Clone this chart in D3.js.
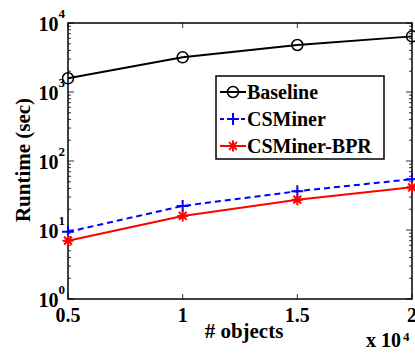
<!DOCTYPE html>
<html>
<head>
<meta charset="utf-8">
<script src="https://cdn.jsdelivr.net/npm/d3@7/dist/d3.min.js"></script>
</head>
<body style="margin:0">
<svg id="chart" width="415" height="355"></svg>
<script>
// Number of objects (in units of 10^4)
const objects = [0.5, 1, 1.5, 2];
const baseline = [1580, 3180, 4800, 6400];
const csminer = [9.4, 22.3, 36.5, 54.5];
const csminerBpr = [7.0, 16.0, 27.5, 41.5];
const xTicks = [0.5, 1, 1.5, 2];
const yExponents = [0, 1, 2, 3, 4];
const seriesNames = ["Baseline", "CSMiner", "CSMiner-BPR"];

const FONT = '"Liberation Serif", "Times New Roman", Tinos, serif';
const svg = d3.select("#chart");
const m = { left: 68, right: 412, top: 23, bottom: 299 };

function label(parent, x0, y0, size, str, anchor) {
  return parent.append("text").attr("x", x0).attr("y", y0)
    .attr("text-anchor", anchor || "start")
    .attr("font-size", size).attr("font-weight", "bold")
    .style("font-family", FONT)
    .text(str);
}

const x = d3.scaleLinear().domain([0.5, 2]).range([m.left, m.right]);
const y = d3.scaleLog().domain([1, 1e4]).range([m.bottom, m.top]);

const series = [
  { name: seriesNames[0], values: baseline, color: "#000", dash: null, marker: "circle" },
  { name: seriesNames[1], values: csminer, color: "#0000ff", dash: "6,4", marker: "plus" },
  { name: seriesNames[2], values: csminerBpr, color: "#ff0000", dash: null, marker: "star" }
];

// Plot frame
svg.append("rect")
  .attr("x", m.left).attr("y", m.top)
  .attr("width", m.right - m.left).attr("height", m.bottom - m.top)
  .attr("fill", "none").attr("stroke", "#000").attr("stroke-width", 1.5);

// Log ticks on both vertical sides, pointing inward
const minor = [];
for (let e = 0; e < 4; e++) for (let k = 2; k <= 9; k++) minor.push(k * Math.pow(10, e));
const tickG = svg.append("g").attr("stroke", "#000").attr("stroke-width", 0.8);
minor.forEach(v => {
  tickG.append("line").attr("x1", m.left).attr("x2", m.left + 3).attr("y1", y(v)).attr("y2", y(v));
  tickG.append("line").attr("x1", m.right).attr("x2", m.right - 3).attr("y1", y(v)).attr("y2", y(v));
});
yExponents.forEach(e => {
  const v = Math.pow(10, e);
  tickG.append("line").attr("x1", m.left).attr("x2", m.left + 6).attr("y1", y(v)).attr("y2", y(v));
  tickG.append("line").attr("x1", m.right).attr("x2", m.right - 6).attr("y1", y(v)).attr("y2", y(v));
});
xTicks.forEach(t => {
  tickG.append("line").attr("x1", x(t)).attr("x2", x(t)).attr("y1", m.bottom).attr("y2", m.bottom - 5);
  tickG.append("line").attr("x1", x(t)).attr("x2", x(t)).attr("y1", m.top).attr("y2", m.top + 5);
});

// Y tick labels as 10^e
yExponents.forEach(e => {
  const yy = y(Math.pow(10, e));
  label(svg, m.left - 9.5, yy + 8, 20, "10", "end");
  label(svg, m.left - 9.5, yy - 5, 13, String(e), "start");
});

// X tick labels
xTicks.forEach(t => label(svg, x(t), m.bottom + 23, 20, String(t), "middle"));

// Axis titles and x multiplier
label(svg, 244, 338, 21, "# objects", "middle");
label(svg, 0, 0, 21, "Runtime (sec)", "middle").attr("x", null).attr("y", null)
  .attr("transform", "translate(30,160) rotate(-90)");
label(svg, 366, 347, 20, "x 10", "start");
label(svg, 403, 341, 13, "4", "start");

// Markers: open circle, plus, asterisk
function drawMarker(g, type, cx, cy, color) {
  if (type === "circle") {
    g.append("circle").attr("cx", cx).attr("cy", cy).attr("r", 5.5)
      .attr("fill", "none").attr("stroke", color).attr("stroke-width", 1.5);
  } else if (type === "plus") {
    g.append("path").attr("d", `M${cx - 6},${cy}H${cx + 6}M${cx},${cy - 6}V${cy + 6}`)
      .attr("stroke", color).attr("stroke-width", 2);
  } else {
    const r = 5.5;
    let d = "";
    for (let i = 0; i < 4; i++) {
      const a = i * Math.PI / 4;
      d += `M${cx - r * Math.cos(a)},${cy - r * Math.sin(a)}L${cx + r * Math.cos(a)},${cy + r * Math.sin(a)}`;
    }
    g.append("path").attr("d", d).attr("stroke", color).attr("stroke-width", 2);
  }
}

const line = d3.line().x((d, i) => x(objects[i])).y(d => y(d));
series.forEach(s => {
  svg.append("path").datum(s.values).attr("d", line)
    .attr("fill", "none").attr("stroke", s.color).attr("stroke-width", 2)
    .attr("stroke-dasharray", s.dash);
  const g = svg.append("g");
  s.values.forEach((v, i) => drawMarker(g, s.marker, x(objects[i]), y(v), s.color));
});

// Legend
const lg = svg.append("g");
lg.append("rect").attr("x", 216).attr("y", 76).attr("width", 168).attr("height", 83)
  .attr("fill", "#fff").attr("stroke", "#000").attr("stroke-width", 1.5);
series.forEach((s, i) => {
  const ly = 92 + i * 27;
  lg.append("line").attr("x1", 220).attr("x2", 246).attr("y1", ly).attr("y2", ly)
    .attr("stroke", s.color).attr("stroke-width", 2).attr("stroke-dasharray", s.dash ? "4,3" : null);
  drawMarker(lg, s.marker, 233, ly, s.color);
  label(lg, 247, ly + 7, 20, s.name, "start");
});
</script>
</body>
</html>
